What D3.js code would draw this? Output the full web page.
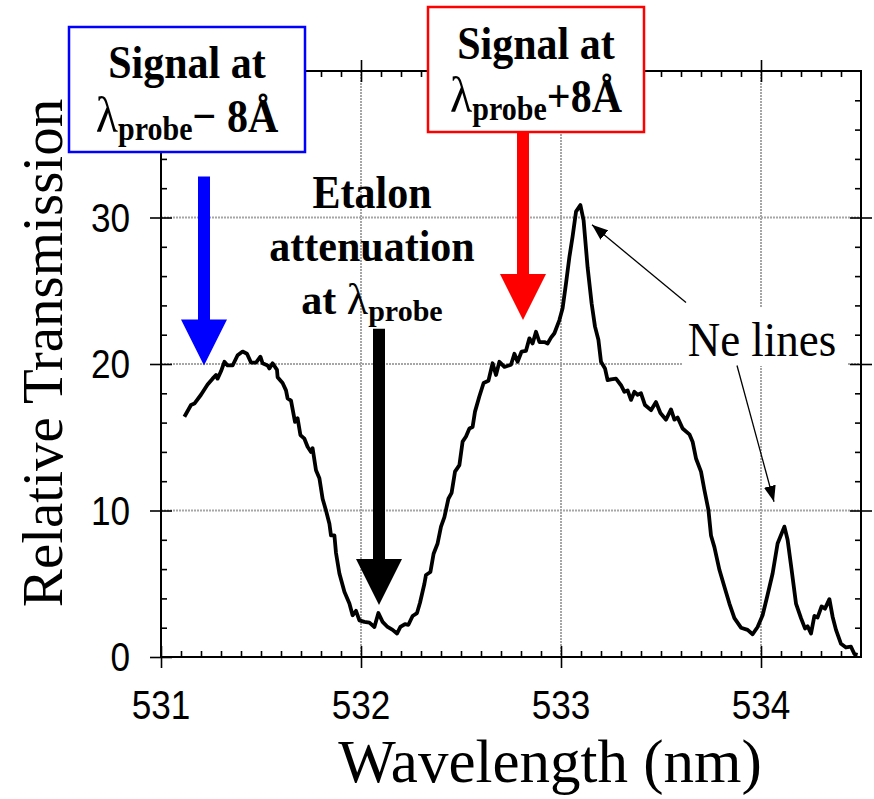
<!DOCTYPE html>
<html>
<head>
<meta charset="utf-8">
<script src="https://cdn.jsdelivr.net/npm/d3@7"></script>
<style>
  body { margin: 0; background: #fff; }
  svg text { font-family: "Liberation Serif", "Times New Roman", serif; }
  .tick-lab { font-family: "Liberation Sans", Arial, sans-serif !important; font-size: 37px; }
</style>
</head>
<body>
<div id="chart"></div>
<script>
// wavelength (nm) and relative transmission
const wavelength = [531.117,531.15,531.167,531.2,531.233,531.258,531.275,531.283,531.3,531.317,531.333,531.358,531.383,531.408,531.43,531.45,531.475,531.497,531.508,531.533,531.542,531.558,531.58,531.583,531.608,531.625,531.633,531.65,531.67,531.683,531.697,531.717,531.733,531.75,531.758,531.775,531.792,531.808,531.825,531.842,531.85,531.867,531.875,531.892,531.917,531.942,531.958,531.975,531.992,532.017,532.042,532.067,532.087,532.108,532.133,532.158,532.18,532.197,532.22,532.237,532.258,532.28,532.295,532.317,532.325,532.347,532.363,532.383,532.4,532.417,532.437,532.453,532.47,532.492,532.508,532.525,532.542,532.558,532.57,532.592,532.613,532.637,532.658,532.675,532.692,532.717,532.75,532.767,532.783,532.803,532.825,532.842,532.858,532.875,532.892,532.917,532.933,532.95,532.967,532.992,533.008,533.025,533.042,533.058,533.075,533.097,533.113,533.133,533.153,533.17,533.187,533.2,533.22,533.233,533.25,533.275,533.3,533.317,533.333,533.35,533.367,533.383,533.4,533.42,533.45,533.475,533.497,533.525,533.55,533.567,533.583,533.608,533.642,533.658,533.675,533.7,533.717,533.737,533.75,533.767,533.792,533.817,533.842,533.867,533.9,533.933,533.958,533.983,534.008,534.033,534.058,534.083,534.117,534.133,534.153,534.175,534.2,534.22,534.233,534.25,534.267,534.283,534.303,534.32,534.342,534.358,534.375,534.4,534.425,534.45,534.467,534.483];
const transmission = [16.4,17.2,17.3,17.9,18.6,19.0,19.25,19.0,19.5,20.15,19.9,19.9,20.6,20.85,20.7,20.1,20.1,20.5,20.05,19.9,19.7,20.05,19.6,19.1,18.7,18.2,17.65,17.5,16.05,16.3,15.15,14.9,14.35,14.0,14.25,12.75,12.2,10.8,10.0,9.1,8.3,8.3,7.1,5.7,4.45,3.65,2.85,3.15,2.5,2.4,2.35,2.05,3.0,2.4,2.05,1.85,1.6,2.05,2.25,2.2,2.8,3.0,3.7,5.0,5.6,5.8,7.05,7.75,8.9,9.55,10.8,11.2,12.65,13.1,14.7,15.05,15.6,15.7,16.75,17.8,18.7,18.85,20.05,19.25,20.15,19.8,19.95,20.7,20.15,20.85,20.9,21.75,21.4,22.2,21.5,21.5,21.4,21.8,22.1,23.0,23.8,25.5,27.3,28.7,30.4,30.85,29.8,26.6,24.15,22.55,21.65,20.15,19.7,18.9,18.95,19.0,18.55,18.1,18.2,17.55,18.1,17.9,18.0,17.2,16.85,17.4,16.65,16.2,16.9,16.2,16.35,15.6,15.2,14.7,13.55,12.65,11.4,10.05,8.3,7.5,5.95,4.8,3.65,2.65,2.0,1.85,1.55,2.05,2.85,4.25,5.7,7.75,8.9,8.0,5.95,3.65,2.65,1.95,2.1,1.6,2.8,2.7,3.45,3.3,3.95,2.75,1.85,0.9,0.65,0.7,0.2,0.15];

const xMajor = [531, 532, 533, 534];
const yMajor = [0, 10, 20, 30];
const xGrid = [532, 533, 534];
const yGrid = [10, 20, 30];

// big arrows: [wavelength, tail value, tip value, colour]
const bigArrows = [
  [531.215, 32.8, 19.9, "#0000ff"],
  [532.81, 35.8, 23.0, "#ff0000"],
  [532.09, 22.4, 3.55, "#000000"]
];
// Ne line pointers: [from λ, from value, to λ, to value]
const nePointers = [
  [533.625, 24.2, 533.155, 29.5],
  [533.88, 19.9, 534.065, 10.6]
];

const W = 874, H = 799;
const svg = d3.select("#chart").append("svg")
  .attr("width", W).attr("height", H);

const x = d3.scaleLinear().domain([531, 534.5]).range([161, 861]);
const y = d3.scaleLinear().domain([0, 40]).range([657, 71]);

// grid
const grid = svg.append("g").attr("stroke", "#a6a6a6").attr("stroke-width", 2).attr("stroke-dasharray", "2,1");
grid.selectAll(".gx").data(xGrid).enter().append("line")
  .attr("x1", d => x(d)).attr("x2", d => x(d)).attr("y1", y(40)).attr("y2", y(0));
grid.selectAll(".gy").data(yGrid).enter().append("line")
  .attr("x1", x(531)).attr("x2", x(534.5)).attr("y1", d => y(d)).attr("y2", d => y(d));

// the trace
const pts = wavelength.map((w, i) => [w, transmission[i]]);
svg.append("path")
  .datum(pts)
  .attr("fill", "none")
  .attr("stroke", "#000")
  .attr("stroke-width", 3.8)
  .attr("stroke-linejoin", "round")
  .attr("d", d3.line().x(d => x(d[0])).y(d => y(d[1])));

// axes: minor ticks inward, major ticks crossing
const xMinor = d3.range(531.1, 534.45, 0.1).filter(v => Math.abs(v - Math.round(v)) > 0.01);
const yMinor = d3.range(2, 40, 2).filter(v => v % 10 != 0);
function axisSet(axisFn, scale, tr, minorV, majorV, inward) {
  const g = svg.append("g").attr("transform", tr);
  g.append("g").call(axisFn(scale).tickValues(minorV).tickSize(inward * 6).tickFormat(""));
  g.append("g").call(axisFn(scale).tickValues(majorV).tickSize(11).tickFormat(""));
  g.append("g").call(axisFn(scale).tickValues(majorV).tickSize(-11).tickFormat(""));
  g.selectAll(".domain").remove();
  g.selectAll("line").attr("stroke", "#000").attr("stroke-width", 1.6);
}
axisSet(d3.axisBottom, x, `translate(0,${y(0)})`, xMinor, xMajor, -1);
axisSet(d3.axisTop, x, `translate(0,${y(40)})`, xMinor, xMajor.slice(1), -1);
axisSet(d3.axisLeft, y, `translate(${x(531)},0)`, yMinor, yMajor, -1);
axisSet(d3.axisRight, y, `translate(${x(534.5)},0)`, yMinor, yMajor.slice(1), -1);

svg.append("rect")
  .attr("x", x(531)).attr("y", y(40))
  .attr("width", x(534.5) - x(531)).attr("height", y(0) - y(40))
  .attr("fill", "none").attr("stroke", "#000").attr("stroke-width", 2);

// tick labels (a little taller than wide, like the original)
svg.selectAll(".xl").data(xMajor).enter().append("text")
  .attr("class", "tick-lab")
  .attr("transform", d => `translate(${x(d)},719) scale(0.95,1.1)`)
  .attr("text-anchor", "middle")
  .text(d => d);
svg.selectAll(".yl").data(yMajor).enter().append("text")
  .attr("class", "tick-lab")
  .attr("transform", d => `translate(130,${y(d) + 14}) scale(0.95,1.1)`)
  .attr("text-anchor", "end")
  .text(d => d);

// axis titles
svg.append("text")
  .attr("x", 550).attr("y", 782)
  .attr("text-anchor", "middle")
  .attr("font-size", 61)
  .text("Wavelength (nm)");
svg.append("text")
  .attr("transform", "translate(62,353) rotate(-90)")
  .attr("text-anchor", "middle")
  .attr("font-size", 57)
  .text("Relative Transmission");

// white label box for Ne lines
svg.append("rect").attr("x", 682).attr("y", 308).attr("width", 166).attr("height", 58).attr("fill", "#fff");
svg.append("text")
  .attr("transform", "translate(762,356) scale(1,1.1)")
  .attr("text-anchor", "middle")
  .attr("font-size", 45)
  .text("Ne lines");

svg.append("defs").append("marker")
  .attr("id", "head")
  .attr("viewBox", "0 0 16 12")
  .attr("refX", 16).attr("refY", 6)
  .attr("markerWidth", 16).attr("markerHeight", 12)
  .attr("markerUnits", "userSpaceOnUse")
  .attr("orient", "auto")
  .append("path").attr("d", "M0,0L16,6L0,12Z").attr("fill", "#000");

svg.selectAll(".ne").data(nePointers).enter().append("line")
  .attr("x1", d => x(d[0])).attr("y1", d => y(d[1]))
  .attr("x2", d => x(d[2])).attr("y2", d => y(d[3]))
  .attr("stroke", "#000").attr("stroke-width", 1.3)
  .attr("marker-end", "url(#head)");

// boxes
function box(x0, y0, w, h, col) {
  svg.append("rect").attr("x", x0).attr("y", y0).attr("width", w).attr("height", h)
    .attr("fill", "#fff").attr("stroke", col).attr("stroke-width", 2.5);
}
box(69, 27, 236, 125, "#0000ff");
box(428, 7, 216, 125, "#ff0000");

// big arrows
bigArrows.forEach(a => {
  const cx = x(a[0]), top = y(a[1]), tip = y(a[2]);
  const headLen = 46, headW = 23, shaft = 6;
  svg.append("path")
    .attr("d", `M${cx - shaft},${top}L${cx + shaft},${top}L${cx + shaft},${tip - headLen}L${cx + headW},${tip - headLen}L${cx},${tip}L${cx - headW},${tip - headLen}L${cx - shaft},${tip - headLen}Z`)
    .attr("fill", a[3]);
});

// bold labels, slightly stretched vertically
function bold(t, cx, by, sy) {
  return svg.append("text").attr("transform", `translate(${cx},${by}) scale(1,${sy})`)
    .attr("text-anchor", "middle").attr("font-size", 42).attr("font-weight", "bold").text(t);
}
bold("Signal at", 187, 78, 1.12);
bold("Signal at", 536, 59, 1.12);
bold("Etalon", 372, 208, 1.12);
bold("attenuation", 372, 261, 1.05);

function lamLine(cx, by, pre, post, sy, lamSize) {
  const t = svg.append("text").attr("transform", `translate(${cx},${by}) scale(1,${sy})`)
    .attr("text-anchor", "middle").attr("font-size", 42).attr("font-weight", "bold");
  if (pre) t.append("tspan").text(pre);
  t.append("tspan").attr("font-weight", "normal").attr("font-size", lamSize).text("λ");
  t.append("tspan").attr("font-size", 30).attr("dy", 7).text("probe");
  if (post) t.append("tspan").attr("dy", -7).text(post);
}
lamLine(187, 132, null, "− 8Å", 1.12, 46);
lamLine(536, 112, null, "+8Å", 1.12, 46);
lamLine(372, 314, "at ", null, 1.0, 44);
</script>
</body>
</html>
